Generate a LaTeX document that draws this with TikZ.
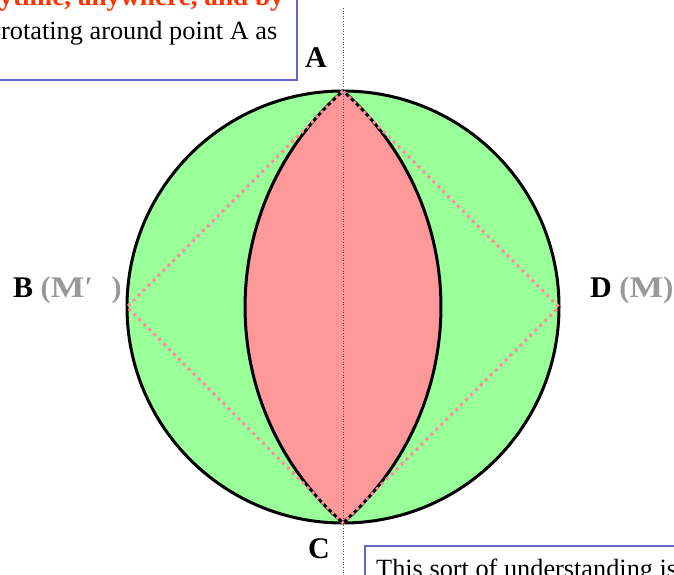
\documentclass[tikz,border=0pt]{standalone}
\usepackage{fontspec}
\setmainfont{Liberation Serif}
\definecolor{boxblue}{HTML}{6666CC}
\definecolor{lgreen}{HTML}{99FF99}
\definecolor{lpink}{HTML}{FF9999}
\definecolor{dpink}{HTML}{FF8C9A}
\definecolor{mgray}{HTML}{999999}
\definecolor{tred}{HTML}{FF3300}
\begin{document}
\begin{tikzpicture}[x=1pt,y=1pt,
  txt/.style={inner sep=0pt,font=\fontsize{26.3}{30}\selectfont},
  lbl/.style={inner sep=0pt,font=\fontsize{30}{34}\selectfont\bfseries},
  frame/.style={draw=boxblue,line width=1.2pt,fill=white},
  thickline/.style={draw=black,line width=3pt}]
\useasboundingbox (0,0) rectangle (674,-575);
\clip (0,0) rectangle (674,-575);
% points
\coordinate (O) at (343,-307);
\coordinate (A) at (343,-91);
\coordinate (B) at (127,-307);
\coordinate (C) at (343,-523);
\coordinate (D) at (559,-307);
\coordinate (top) at (343,-8);
\coordinate (bot) at (343,-580);
% circle
\path[thickline,fill=lgreen] (O) circle[radius=216];
% lens
\path[thickline,fill=lpink,line join=miter]
  (A) arc[start angle=131.2,end angle=228.8,radius=287]
      arc[start angle=-48.8,end angle=48.8,radius=287] -- cycle;
% dotted diamond
\draw[dpink,line width=3pt,dash pattern=on 3pt off 4pt] (A) -- (B) -- (C) -- (D) -- cycle;
% axis
\draw[black!70,line width=0.6pt,dotted] (top) -- (bot);
% boxes
\path[frame] (-10,10) rectangle (297,-80);
\node[txt,text=tred,font=\fontsize{27.2}{30}\selectfont\bfseries,anchor=base east] (t1) at (284,-6) {ytime, anywhere, and by};
\node[txt,anchor=base west] (t2) at (1,-40) {rotating around point A as};
\path[frame] (365,-546) rectangle (700,-600);
\node[txt,anchor=base west] (t3) at (376,-577) {This sort of understanding is};
% labels
\node[lbl,anchor=base] (lA) at (316,-68) {A};
\node[lbl,anchor=base] (lC) at (319,-558) {C};
\node[lbl,anchor=base west] (lB) at (13,-297) {B \textcolor{mgray}{(\scalebox{1.2}[1]{M}′\hspace{0.62em})}};
\node[lbl,anchor=base west] (lD) at (590,-297) {D \textcolor{mgray}{(\scalebox{1.2}[1]{M})}};
\end{tikzpicture}
\end{document}
